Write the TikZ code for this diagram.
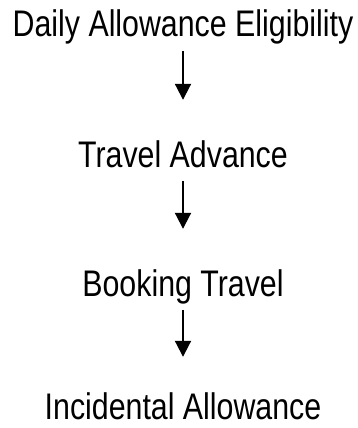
\documentclass[tikz,border=0pt]{standalone}
\usepackage{fontspec}
\setmainfont{Liberation Sans}[FakeStretch=0.82]
\usetikzlibrary{arrows.meta}
\begin{document}
\begin{tikzpicture}[x=1pt,y=1pt,
    stage/.style={anchor=base, inner sep=0pt, text height=27pt, text depth=8pt,
        font=\fontsize{37pt}{44pt}\selectfont},
    flow/.style={line width=2pt, -{Triangle[length=16pt,width=16pt]},
        shorten <=6pt, shorten >=40pt}]
            \useasboundingbox (0,0) rectangle (358,-428);
            
            % Stage texts
            \node [stage] (daily) at (183,-37) {Daily Allowance Eligibility};%
            \node [stage] (advance) at (183,-167) {Travel Advance};%
            \node [stage] (booking) at (183,-296) {Booking Travel};%
            \node [stage] (incidental) at (183,-419) {Incidental Allowance};%
            
            % Drawing arrows between stages
            \draw [flow] (daily.south) -- (advance.north);%
            \draw [flow] (advance.south) -- (booking.north);%
            \draw [flow, shorten >=35pt] (booking.south) -- (incidental.north);%
\end{tikzpicture}
\end{document}
